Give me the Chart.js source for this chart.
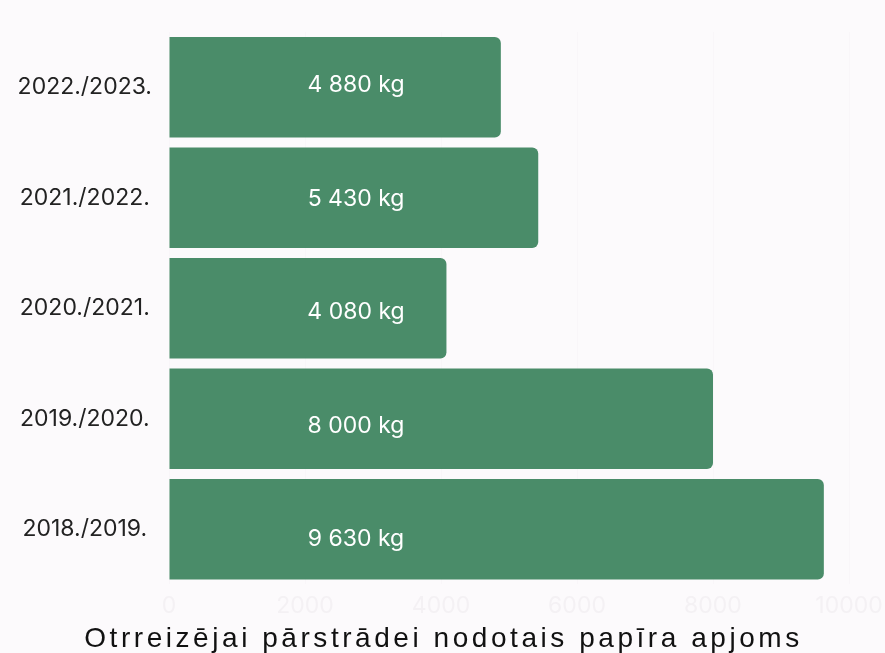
<!DOCTYPE html>
<html>
<head>
<meta charset="utf-8">
<script src="https://cdn.jsdelivr.net/npm/chart.js@4/dist/chart.umd.min.js"></script>
<style>
  html, body { margin: 0; padding: 0; background: #fcfafc; }
  #wrap { width: 885px; height: 653px; position: relative; }
</style>
</head>
<body>
<div id="wrap"><canvas id="c" width="885" height="653"></canvas></div>
<script>
const categories = ["2022./2023.", "2021./2022.", "2020./2021.", "2019./2020.", "2018./2019."];
const paperKg = [4880, 5430, 4080, 8000, 9630];
const valueLabels = ["4 880 kg", "5 430 kg", "4 080 kg", "8 000 kg", "9 630 kg"];
const xTicks = [0, 2000, 4000, 6000, 8000, 10000];
const titleText = "Otrreizējai pārstrādei nodotais papīra apjoms";

const LABEL_VALUE_X = 2750;

const labelPlugin = {
  id: 'valueLabels',
  afterDatasetsDraw(chart) {
    const ctx = chart.ctx;
    const meta = chart.getDatasetMeta(0);
    const xs = chart.scales.x;
    ctx.save();
    ctx.fillStyle = '#ffffff';
    ctx.font = '23px Inter';
    ctx.textAlign = 'center';
    ctx.textBaseline = 'middle';
    meta.data.forEach((bar, i) => {
      ctx.fillText(valueLabels[i], xs.getPixelForValue(LABEL_VALUE_X), bar.y - 2 + 3 * i);
    });
    ctx.restore();
  },
  afterDraw(chart) {
    const ctx = chart.ctx;
    ctx.save();
    ctx.fillStyle = '#111111';
    ctx.font = '28px "Liberation Sans"';
    ctx.letterSpacing = '3.55px';
    ctx.textAlign = 'center';
    ctx.textBaseline = 'alphabetic';
    ctx.fillText(titleText, chart.width / 2 + 1, 647);
    ctx.restore();
  }
};

new Chart(document.getElementById('c'), {
  type: 'bar',
  data: {
    labels: categories,
    datasets: [{
      data: paperKg,
      backgroundColor: '#4a8c69',
      borderRadius: 6,
      borderSkipped: 'start',
      barPercentage: 0.91,
      categoryPercentage: 1.0
    }]
  },
  options: {
    indexAxis: 'y',
    responsive: false,
    animation: false,
    devicePixelRatio: 1,
    layout: { padding: { top: 32, right: 36, bottom: 25, left: 0 } },
    plugins: { legend: { display: false }, tooltip: { enabled: false }, title: { display: false } },
    scales: {
      x: {
        min: 0, max: 10000,
        afterBuildTicks(scale) { scale.ticks = xTicks.map(v => ({ value: v })); },
        afterFit(scale) { scale.paddingLeft = 0; scale.paddingRight = 0; },
        grid: { color: '#f9f6f9', drawTicks: false },
        border: { display: false },
        ticks: {
          color: '#f4f1f4', font: { family: 'Inter', size: 23 }, padding: 8, maxRotation: 0,
          callback: (v) => String(v)
        }
      },
      y: {
        grid: { display: false, drawTicks: false },
        border: { display: false },
        afterFit(scale) { scale.width = 169; },
        ticks: { color: '#222222', font: { family: 'Inter', size: 23 }, padding: 17, crossAlign: 'center' }
      }
    }
  },
  plugins: [labelPlugin]
});
</script>
</body>
</html>
